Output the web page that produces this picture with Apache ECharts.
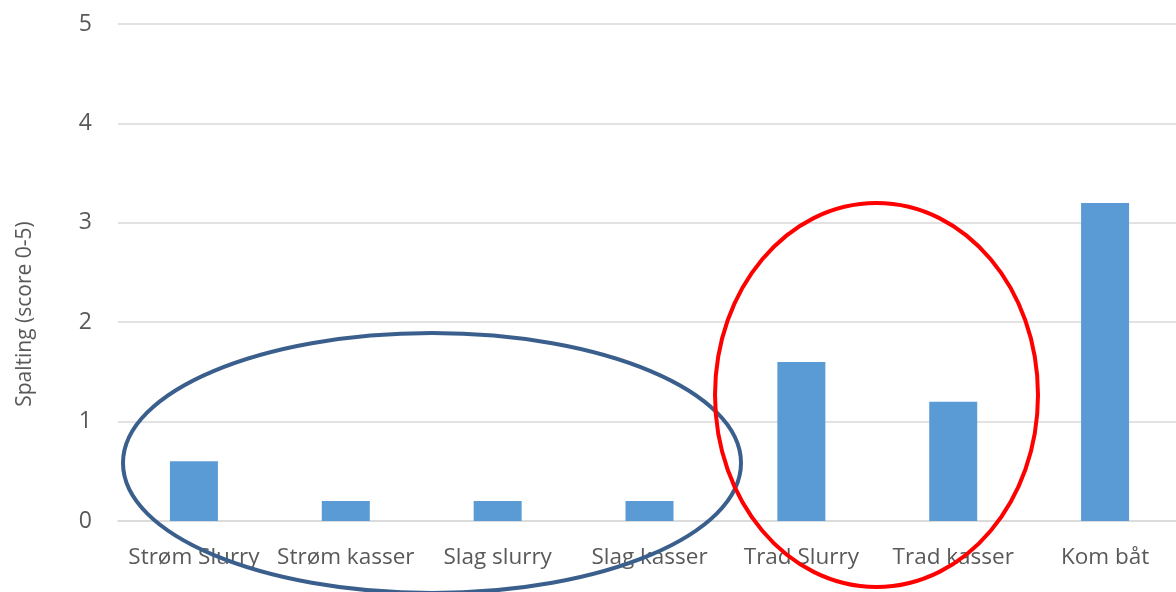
<!DOCTYPE html>
<html>
<head>
<meta charset="utf-8">
<script src="https://cdn.jsdelivr.net/npm/echarts@6/dist/echarts.min.js"></script>
<style>html,body{margin:0;padding:0;background:#fff;overflow:hidden}#c{width:1181px;height:592px}</style>
</head>
<body>
<div id="c"></div>
<script>
const categories = ['Strøm Slurry', 'Strøm kasser', 'Slag slurry', 'Slag kasser', 'Trad Slurry', 'Trad kasser', 'Kom båt'];
const values = [0.6, 0.2, 0.2, 0.2, 1.6, 1.2, 3.2];
const yTitle = 'Spalting (score 0-5)';

const chart = echarts.init(document.getElementById('c'), null, {renderer: 'canvas'});
const font = '"Open Sans", sans-serif';
chart.setOption({
  animation: false,
  backgroundColor: '#ffffff',
  grid: {left: 118, right: 0, top: 24, bottom: 71, containLabel: false},
  xAxis: {
    type: 'category',
    data: categories,
    axisLine: {show: true, lineStyle: {color: '#d9d9d9', width: 1.5}},
    axisTick: {show: false},
    axisLabel: {color: '#595959', fontSize: 22.5, fontFamily: font, margin: 25, interval: 0}
  },
  yAxis: {
    type: 'value',
    min: 0, max: 5, interval: 1,
    axisLine: {show: false},
    axisTick: {show: false},
    axisLabel: {color: '#595959', fontSize: 23, fontFamily: font, margin: 26},
    splitLine: {lineStyle: {color: '#d9d9d9', width: 1.5}}
  },
  series: [{
    type: 'bar',
    data: values,
    barWidth: 48,
    itemStyle: {color: '#5B9BD5'}
  }],
  graphic: [
    {type: 'text', x: 25, y: 314, rotation: Math.PI / 2,
     style: {text: yTitle, fill: '#595959', font: '21px "Open Sans", sans-serif', align: 'center', verticalAlign: 'middle'}},
    {type: 'ellipse', shape: {cx: 432, cy: 463, rx: 309, ry: 130}, style: {fill: 'none', stroke: '#3A5F8C', lineWidth: 4}, z: 100},
    {type: 'ellipse', shape: {cx: 876.5, cy: 395, rx: 161.5, ry: 192}, style: {fill: 'none', stroke: '#FF0000', lineWidth: 4}, z: 100}
  ]
});
</script>
</body>
</html>
